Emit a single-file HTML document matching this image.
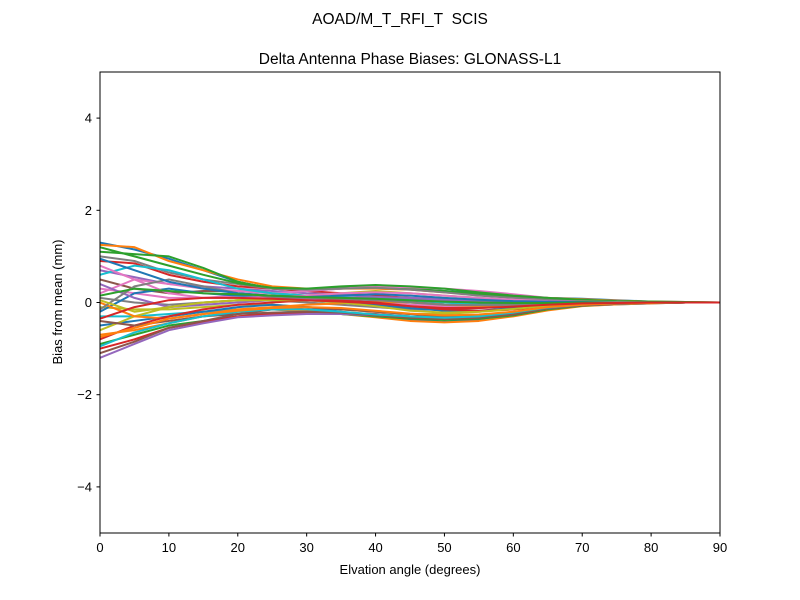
<!DOCTYPE html>
<html><head><meta charset="utf-8"><style>
body{margin:0;background:#fff;}
svg{display:block;font-family:"Liberation Sans","DejaVu Sans",sans-serif;}
</style></head><body>
<svg id="chart" width="800" height="600">
<rect width="800" height="600" fill="#fff"/>
<text x="400" y="24" text-anchor="middle" font-size="15.5">AOAD/M_T_RFI_T&#160; SCIS</text>
<text x="410" y="64" text-anchor="middle" font-size="15.5">Delta Antenna Phase Biases: GLONASS-L1</text>
<defs><clipPath id="clip"><rect x="100" y="72" width="620" height="461"/></clipPath></defs>
<g id="lines" clip-path="url(#clip)"></g>
<rect x="100" y="72" width="620" height="461" fill="none" stroke="#000" stroke-width="1"/>
<g id="xt"></g>
<g id="yt"></g>
<text x="410" y="574" text-anchor="middle" font-size="13">Elvation angle (degrees)</text>
<text transform="translate(62,302) rotate(-90)" text-anchor="middle" font-size="13">Bias from mean (mm)</text>
</svg>
<script>
const elevations=[0,5,10,15,20,25,30,35,40,45,50,55,60,65,70,75,80,85,90];
const xTicks=[0,10,20,30,40,50,60,70,80,90];
const yTicks=[-4,-2,0,2,4];
const s1=[1.3,1.15,0.95,0.7,0.45,0.3,0.25,0.3,0.35,0.3,0.25,0.2,0.15,0.1,0.08,0.05,0.02,0.01,0];
const s2=[1.25,1.2,0.9,0.7,0.5,0.35,0.3,0.3,0.3,0.28,0.22,0.18,0.12,0.1,0.07,0.04,0.02,0.01,0];
const s3=[1.1,1.05,1.0,0.75,0.45,0.3,0.28,0.32,0.33,0.3,0.25,0.18,0.12,0.08,0.05,0.03,0.02,0,0];
const s4=[0.9,0.85,0.6,0.45,0.35,0.3,0.25,0.2,0.15,0.1,0.05,0.02,0,0,0,0,0,0,0];
const s5=[0.7,0.55,0.4,0.35,0.3,0.25,0.2,0.18,0.12,0.08,0.05,0.02,0.01,0,0,0,0,0,0];
const s6=[0.5,0.3,0.2,0.25,0.25,0.2,0.15,0.1,0.05,0.02,0,-0.02,-0.02,-0.01,0,0,0,0,0];
const s7=[0.3,0.2,0.1,0.1,0.15,0.15,0.1,0.05,0,-0.05,-0.08,-0.08,-0.05,-0.03,-0.02,-0.01,0,0,0];
const s8=[0.1,0.0,-0.05,0.0,0.05,0.05,0.0,-0.05,-0.1,-0.15,-0.15,-0.12,-0.08,-0.05,-0.03,-0.02,-0.01,0,0];
const s9=[-0.1,-0.15,-0.15,-0.1,-0.05,-0.05,-0.1,-0.15,-0.2,-0.25,-0.25,-0.2,-0.15,-0.1,-0.05,-0.03,-0.01,0,0];
const s10=[-0.3,-0.3,-0.25,-0.2,-0.15,-0.15,-0.2,-0.25,-0.3,-0.35,-0.35,-0.3,-0.22,-0.12,-0.06,-0.03,-0.01,0,0];
const s11=[-0.5,-0.4,-0.3,-0.2,-0.1,-0.05,-0.1,-0.2,-0.3,-0.38,-0.42,-0.38,-0.28,-0.15,-0.07,-0.04,-0.02,0,0];
const s12=[-0.7,-0.6,-0.45,-0.3,-0.2,-0.15,-0.18,-0.25,-0.32,-0.4,-0.43,-0.4,-0.3,-0.17,-0.08,-0.04,-0.02,0,0];
const s13=[-0.9,-0.7,-0.5,-0.4,-0.3,-0.25,-0.22,-0.25,-0.3,-0.35,-0.38,-0.35,-0.28,-0.15,-0.07,-0.03,-0.01,0,0];
const s14=[-1.0,-0.8,-0.55,-0.42,-0.3,-0.25,-0.22,-0.22,-0.25,-0.3,-0.32,-0.3,-0.25,-0.12,-0.06,-0.03,-0.01,0,0];
const s15=[-1.2,-0.9,-0.6,-0.45,-0.32,-0.28,-0.25,-0.25,-0.28,-0.32,-0.35,-0.32,-0.25,-0.13,-0.06,-0.03,-0.01,0,0];
const s16=[-1.1,-0.85,-0.55,-0.4,-0.25,-0.15,-0.1,-0.15,-0.2,-0.25,-0.3,-0.28,-0.22,-0.12,-0.06,-0.03,-0.01,0,0];
const s17=[0.2,0.5,0.4,0.3,0.25,0.2,0.25,0.3,0.35,0.33,0.3,0.25,0.18,0.1,0.05,0.03,0.01,0,0];
const s18=[1.0,0.9,0.65,0.5,0.4,0.3,0.28,0.3,0.32,0.28,0.22,0.15,0.1,0.06,0.03,0.02,0.01,0,0];
const s19=[-0.6,-0.3,-0.1,0.0,0.05,0.1,0.15,0.2,0.25,0.2,0.15,0.1,0.05,0.02,0,0,0,0,0];
const s20=[0.6,0.8,0.7,0.5,0.3,0.2,0.15,0.12,0.1,0.05,0.0,-0.05,-0.05,-0.03,-0.02,-0.01,0,0,0];
const s21=[-0.2,0.2,0.3,0.2,0.15,0.1,0.05,0.0,-0.05,-0.12,-0.18,-0.18,-0.12,-0.06,-0.03,-0.01,0,0,0];
const s22=[0.0,-0.3,-0.35,-0.25,-0.15,-0.1,-0.05,-0.02,0.02,0.0,-0.05,-0.08,-0.06,-0.04,-0.02,-0.01,0,0,0];
const s23=[1.2,1.0,0.8,0.6,0.42,0.32,0.3,0.35,0.38,0.35,0.3,0.22,0.15,0.1,0.06,0.03,0.02,0.01,0];
const s24=[-0.8,-0.5,-0.3,-0.15,-0.05,0.0,0.05,0.05,0.0,-0.08,-0.15,-0.18,-0.15,-0.08,-0.04,-0.02,-0.01,0,0];
const s25=[0.4,0.1,-0.1,-0.05,0.0,0.05,0.08,0.1,0.12,0.1,0.08,0.05,0.02,0.01,0,0,0,0,0];
const s26=[-0.4,-0.5,-0.4,-0.3,-0.25,-0.22,-0.2,-0.22,-0.28,-0.33,-0.36,-0.33,-0.26,-0.13,-0.06,-0.03,-0.01,0,0];
const s27=[0.8,0.5,0.2,0.1,0.1,0.12,0.15,0.2,0.22,0.2,0.15,0.1,0.06,0.03,0.02,0.01,0,0,0];
const s28=[-0.15,0.35,0.5,0.35,0.2,0.12,0.1,0.08,0.05,0.0,-0.05,-0.06,-0.05,-0.03,-0.02,-0.01,0,0,0];
const s29=[0.05,-0.2,-0.1,0.0,0.05,0.05,0.05,0.0,-0.08,-0.18,-0.22,-0.2,-0.14,-0.07,-0.03,-0.01,0,0,0];
const s30=[-0.95,-0.65,-0.45,-0.3,-0.2,-0.15,-0.15,-0.2,-0.26,-0.3,-0.33,-0.3,-0.22,-0.11,-0.05,-0.02,-0.01,0,0];
const s31=[0.95,0.7,0.45,0.3,0.2,0.15,0.12,0.15,0.18,0.15,0.1,0.06,0.03,0.02,0.01,0,0,0,0];
const s32=[-0.75,-0.55,-0.35,-0.25,-0.18,-0.12,-0.1,-0.12,-0.18,-0.24,-0.28,-0.26,-0.2,-0.1,-0.05,-0.02,-0.01,0,0];
const s33=[0.15,0.3,0.25,0.2,0.18,0.15,0.12,0.1,0.08,0.05,0.02,0,-0.01,-0.01,0,0,0,0,0];
const s34=[-0.35,-0.1,0.05,0.1,0.1,0.08,0.05,0.02,-0.02,-0.08,-0.12,-0.12,-0.09,-0.05,-0.02,-0.01,0,0,0];
const seriesList=[s1,s2,s3,s4,s5,s6,s7,s8,s9,s10,s11,s12,s13,s14,s15,s16,s17,s18,s19,s20,s21,s22,s23,s24,s25,s26,s27,s28,s29,s30,s31,s32,s33,s34];
const colors=["#1f77b4","#ff7f0e","#2ca02c","#d62728","#9467bd","#8c564b","#e377c2","#7f7f7f","#bcbd22","#17becf"];
const NS="http://www.w3.org/2000/svg";
const xs=v=>100+v/90*620;
const ys=v=>302.5-v*46.1;
const lines=document.getElementById('lines');
seriesList.forEach((s,i)=>{
  const p=document.createElementNS(NS,'polyline');
  p.setAttribute('points',s.map((v,j)=>xs(elevations[j])+','+ys(v)).join(' '));
  p.setAttribute('fill','none');
  p.setAttribute('stroke',colors[i%10]);
  p.setAttribute('stroke-width','2');
  p.setAttribute('stroke-linejoin','round');
  
  
  lines.appendChild(p);
});
const xt=document.getElementById('xt');
xTicks.forEach(t=>{
  const l=document.createElementNS(NS,'line');
  l.setAttribute('x1',xs(t));l.setAttribute('x2',xs(t));l.setAttribute('y1',533);l.setAttribute('y2',536.5);l.setAttribute('stroke','#000');
  
  
  xt.appendChild(l);
  const tx=document.createElementNS(NS,'text');
  tx.setAttribute('x',xs(t));tx.setAttribute('y',552);tx.setAttribute('text-anchor','middle');tx.setAttribute('font-size','13');
  tx.textContent=t;
  
  
  xt.appendChild(tx);
});
const yt=document.getElementById('yt');
yTicks.forEach(t=>{
  const l=document.createElementNS(NS,'line');
  l.setAttribute('x1',96.5);l.setAttribute('x2',100);l.setAttribute('y1',ys(t));l.setAttribute('y2',ys(t));l.setAttribute('stroke','#000');
  
  
  yt.appendChild(l);
  const tx=document.createElementNS(NS,'text');
  tx.setAttribute('x',92);tx.setAttribute('y',ys(t)+4.5);tx.setAttribute('text-anchor','end');tx.setAttribute('font-size','13');
  tx.textContent=t<0?'\u2212'+Math.abs(t):String(t);
  
  
  yt.appendChild(tx);
});
</script>
</body></html>
